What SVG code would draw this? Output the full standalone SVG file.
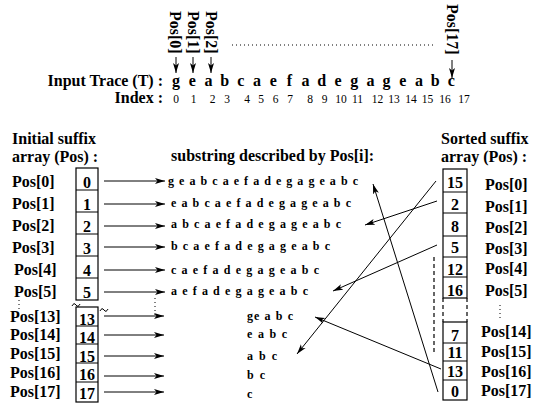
<svg xmlns="http://www.w3.org/2000/svg" width="535" height="407" viewBox="0 0 535 407">
<style>
.t{font-family:"Liberation Serif",serif;font-weight:bold;font-size:16px;fill:#000}
.s{font-family:"Liberation Serif",serif;font-weight:bold;font-size:12px;fill:#000}
.ix{font-family:"Liberation Serif",serif;font-size:11.5px;fill:#000}
.m{text-anchor:middle}
.e{text-anchor:end}
.box{fill:none;stroke:#000;stroke-width:1.2}
.ln{fill:none;stroke:#000;stroke-width:1}
.dot{fill:none;stroke:#000;stroke-width:1;stroke-dasharray:1,3}
.dash{fill:none;stroke:#000;stroke-width:1.2;stroke-dasharray:4,3}
</style>
<defs>
<marker id="ah" markerWidth="11" markerHeight="7" refX="10" refY="3.5" orient="auto" markerUnits="userSpaceOnUse">
<path d="M0,0.5 L10,3.5 L0,6.5 L2.5,3.5 z" fill="#000"/>
</marker>
</defs>

<g id="trace">
<text class="t" font-size="17" transform="translate(170,11) rotate(90)">Pos[0]</text>
<text class="t" font-size="17" transform="translate(188,11) rotate(90)">Pos[1]</text>
<text class="t" font-size="17" transform="translate(206,11) rotate(90)">Pos[2]</text>
<text class="t" font-size="17" transform="translate(447,4) rotate(90)">Pos[17]</text>
<line class="dot" x1="232" y1="45" x2="433" y2="45"/>
<text class="t e" x="163" y="86">Input Trace (T) :</text>
<text class="t e" x="163" y="103">Index :</text>
<g class="t m">
<text x="176" y="86">g</text><text x="192.2" y="86">e</text><text x="208.4" y="86">a</text><text x="224.6" y="86">b</text><text x="240.8" y="86">c</text><text x="257" y="86">a</text><text x="273.2" y="86">e</text><text x="289.4" y="86">f</text><text x="305.6" y="86">a</text><text x="321.8" y="86">d</text><text x="338" y="86">e</text><text x="354.2" y="86">g</text><text x="370.4" y="86">a</text><text x="386.6" y="86">g</text><text x="402.8" y="86">e</text><text x="419" y="86">a</text><text x="435.2" y="86">b</text><text x="451.4" y="86">c</text>
</g>
<g class="ix m">
<text x="176" y="103">0</text><text x="193.5" y="103">1</text><text x="212.5" y="103">2</text><text x="227" y="103">3</text><text x="247" y="103">4</text><text x="261" y="103">5</text><text x="275.5" y="103">6</text><text x="290" y="103">7</text><text x="310" y="103">8</text><text x="324.5" y="103">9</text><text x="341" y="103">10</text><text x="357.5" y="103">11</text><text x="377.5" y="103">12</text><text x="394" y="103">13</text><text x="411" y="103">14</text><text x="427.5" y="103">15</text><text x="445" y="103">16</text><text x="464" y="103">17</text>
</g>
</g>

<g id="initial-array">
<text class="t" x="12" y="144">Initial suffix</text>
<text class="t" x="12" y="162">array (Pos) :</text>
<rect class="box" x="76" y="168" width="22" height="132"/>
<line class="ln" x1="76" y1="190" x2="98" y2="190"/>
<line class="ln" x1="76" y1="212" x2="98" y2="212"/>
<line class="ln" x1="76" y1="234" x2="98" y2="234"/>
<line class="ln" x1="76" y1="256" x2="98" y2="256"/>
<line class="ln" x1="76" y1="278" x2="98" y2="278"/>
<rect class="box" x="76" y="307" width="22" height="95"/>
<line class="ln" x1="76" y1="326" x2="98" y2="326"/>
<line class="ln" x1="76" y1="344" x2="98" y2="344"/>
<line class="ln" x1="76" y1="363" x2="98" y2="363"/>
<line class="ln" x1="76" y1="382" x2="98" y2="382"/>
<path class="ln" d="M72,306 q2,-4 4,-1 t4,-1"/>
<path class="ln" d="M100,311 q2,-4 4,-1 t4,-1"/>
<g class="t m">
<text x="87" y="188">0</text><text x="87" y="210">1</text><text x="87" y="232">2</text><text x="87" y="254">3</text><text x="87" y="276">4</text><text x="87" y="298">5</text>
<text x="87" y="325">13</text><text x="87" y="343">14</text><text x="87" y="362">15</text><text x="87" y="380">16</text><text x="87" y="399">17</text>
</g>
<g class="t">
<text x="12" y="187">Pos[0]</text><text x="12" y="209">Pos[1]</text><text x="12" y="231">Pos[2]</text><text x="12" y="253">Pos[3]</text><text x="14" y="275">Pos[4]</text><text x="14" y="297">Pos[5]</text>
<text x="10" y="322">Pos[13]</text><text x="10" y="340">Pos[14]</text><text x="10" y="359">Pos[15]</text><text x="10" y="378">Pos[16]</text><text x="10" y="397">Pos[17]</text>
</g>
<line class="dot" x1="19" y1="300" x2="19" y2="310"/>
</g>

<g id="substrings">
<text class="t" x="171" y="161" font-size="15">substring described by Pos[i]:</text>
<text class="s" x="168" y="185" textLength="190" lengthAdjust="spacing">g e a b c a e f a d e g a g e a b c</text>
<text class="s" x="171" y="207" textLength="180" lengthAdjust="spacing">e a b c a e f a d e g a g e a b c</text>
<text class="s" x="171" y="228" textLength="170" lengthAdjust="spacing">a b c a e f a d e g a g e a b c</text>
<text class="s" x="171" y="250" textLength="159" lengthAdjust="spacing">b c a e f a d e g a g e a b c</text>
<text class="s" x="171" y="274" textLength="148" lengthAdjust="spacing">c a e f a d e g a g e a b c</text>
<text class="s" x="171" y="295" textLength="137" lengthAdjust="spacing">a e f a d e g a g e a b c</text>
<line class="dot" x1="155" y1="298" x2="155" y2="318"/>
<text class="s" x="247" y="320" textLength="46" lengthAdjust="spacing">ge a b c</text>
<text class="s" x="247" y="338" textLength="40" lengthAdjust="spacing">e a b c</text>
<text class="s" x="247" y="360" textLength="30" lengthAdjust="spacing">a b c</text>
<text class="s" x="247" y="379" textLength="18" lengthAdjust="spacing">b c</text>
<text class="s" x="247" y="398">c</text>
</g>

<g id="sorted-array">
<text class="t" x="441" y="144">Sorted suffix</text>
<text class="t" x="441" y="162">array (Pos) :</text>
<rect class="box" x="443" y="169" width="24" height="129"/>
<line class="ln" x1="443" y1="192" x2="467" y2="192"/>
<line class="ln" x1="443" y1="213" x2="467" y2="213"/>
<line class="ln" x1="443" y1="236" x2="467" y2="236"/>
<line class="ln" x1="443" y1="257" x2="467" y2="257"/>
<line class="ln" x1="443" y1="277" x2="467" y2="277"/>
<line class="dash" x1="443" y1="298" x2="443" y2="322"/>
<line class="dash" x1="467" y1="298" x2="467" y2="322"/>
<rect class="box" x="443" y="322" width="24" height="78"/>
<line class="ln" x1="443" y1="343" x2="467" y2="343"/>
<line class="ln" x1="443" y1="361" x2="467" y2="361"/>
<line class="ln" x1="443" y1="380" x2="467" y2="380"/>
<g class="t m">
<text x="455" y="188">15</text><text x="455" y="210">2</text><text x="455" y="232">8</text><text x="455" y="253">5</text><text x="455" y="275">12</text><text x="455" y="296">16</text>
<text x="455" y="341">7</text><text x="455" y="358">11</text><text x="455" y="377">13</text><text x="455" y="397">0</text>
</g>
<g class="t">
<text x="485" y="190">Pos[0]</text><text x="485" y="212">Pos[1]</text><text x="485" y="233">Pos[2]</text><text x="485" y="254">Pos[3]</text><text x="485" y="274">Pos[4]</text><text x="485" y="296">Pos[5]</text>
<text x="481" y="337">Pos[14]</text><text x="481" y="357">Pos[15]</text><text x="481" y="377">Pos[16]</text><text x="481" y="396">Pos[17]</text>
</g>
<line class="dot" x1="500" y1="305" x2="500" y2="321"/>
<line class="dash" x1="434" y1="257" x2="434" y2="352"/>
</g>

<g id="connectors" class="ln" marker-end="url(#ah)">
<line x1="176" y1="57" x2="176" y2="73"/>
<line x1="193" y1="57" x2="193" y2="73"/>
<line x1="211" y1="57" x2="211" y2="73"/>
<line x1="452" y1="60" x2="452" y2="78"/>
<line x1="104" y1="181" x2="165" y2="181"/>
<line x1="104" y1="204" x2="165" y2="204"/>
<line x1="104" y1="226" x2="165" y2="226"/>
<line x1="104" y1="247" x2="165" y2="247"/>
<line x1="104" y1="270" x2="165" y2="270"/>
<line x1="104" y1="292" x2="165" y2="292"/>
<line x1="104" y1="316" x2="164" y2="316"/>
<line x1="104" y1="335" x2="164" y2="335"/>
<line x1="104" y1="356" x2="164" y2="356"/>
<line x1="104" y1="376" x2="164" y2="376"/>
<line x1="104" y1="392" x2="164" y2="392"/>
<line x1="436" y1="181" x2="297" y2="354"/>
<line x1="437" y1="201" x2="365" y2="225"/>
<line x1="437" y1="245" x2="333" y2="291"/>
<line x1="438" y1="392" x2="373" y2="184"/>
<line x1="441" y1="369" x2="315" y2="317"/>
</g>
</svg>
